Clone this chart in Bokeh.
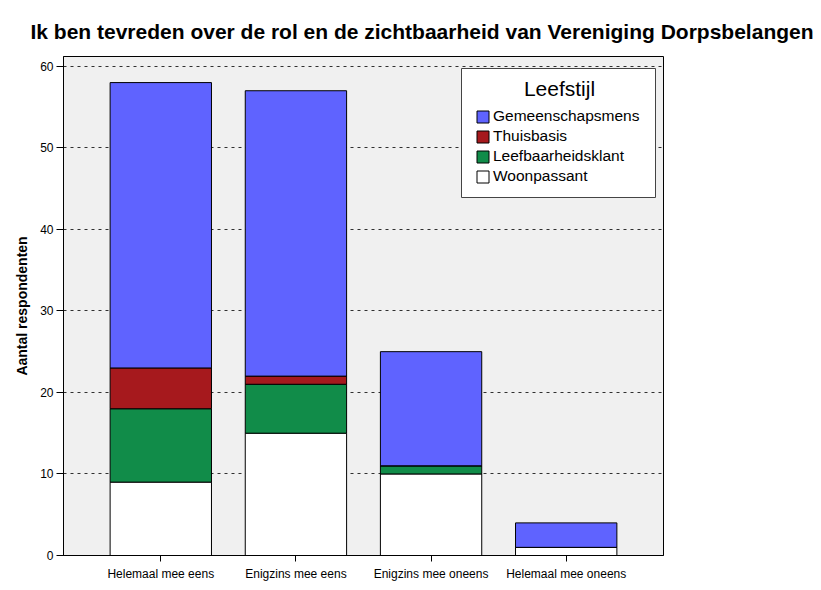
from bokeh.plotting import figure
from bokeh.models import (ColumnDataSource, FactorRange, Range1d, Legend, LegendItem,
                          FixedTicker, BoxAnnotation, Label)
from bokeh.embed import file_html
from bokeh.resources import INLINE

categories = ["Helemaal mee eens", "Enigzins mee eens", "Enigzins mee oneens", "Helemaal mee oneens"]
woonpassant = [9, 15, 10, 1]
leefbaarheidsklant = [9, 6, 1, 0]
thuisbasis = [5, 1, 0, 0]
gemeenschapsmens = [35, 35, 14, 3]

series_names = ["Woonpassant", "Leefbaarheidsklant", "Thuisbasis", "Gemeenschapsmens"]
series_colors = ["#ffffff", "#118c49", "#a6191d", "#5f63ff"]
y_ticks = [0, 10, 20, 30, 40, 50, 60]
legend_title = "Leefstijl"

src = ColumnDataSource(dict(cat=categories, w=woonpassant, l=leefbaarheidsklant,
                            t=thuisbasis, g=gemeenschapsmens))

FONT = "Liberation Sans"

p = figure(x_range=FactorRange(factors=categories, range_padding=0.22, range_padding_units="absolute"),
           y_range=Range1d(0, 61.2),
           frame_width=600, frame_height=499,
           min_border_left=63, min_border_right=158, min_border_top=56, min_border_bottom=35,
           output_backend="svg", toolbar_location=None,
           background_fill_color="#f0f0f0", border_fill_color="white",
           outline_line_color="black", outline_line_width=1)

p.title.text = "Ik ben tevreden over de rol en de zichtbaarheid van Vereniging Dorpsbelangen"
p.title.align = "left"
p.title.offset = -33
p.title.standoff = 28
p.title.text_font = FONT
p.title.text_font_size = "21px"
p.title.text_font_style = "bold"
p.title.text_color = "black"

renderers = p.vbar_stack(["w", "l", "t", "g"], x="cat", width=0.75, source=src,
                         fill_color=series_colors, line_color="black", line_width=1)

# axes
p.yaxis.ticker = FixedTicker(ticks=y_ticks)
p.yaxis.axis_label = "Aantal respondenten"
p.yaxis.axis_label_text_font = FONT
p.yaxis.axis_label_text_font_style = "bold"
p.yaxis.axis_label_text_font_size = "14px"
p.yaxis.axis_label_text_color = "black"
p.yaxis.axis_label_standoff = 7
for ax in (p.xaxis[0], p.yaxis[0]):
    ax.axis_line_color = "black"
    ax.major_tick_line_color = "black"
    ax.major_tick_in = 0
    ax.major_tick_out = 6
    ax.minor_tick_line_color = None
    ax.major_label_text_font = FONT
    ax.major_label_text_font_size = "12px"
    ax.major_label_text_color = "black"
p.yaxis.major_tick_out = 7
p.yaxis.major_label_standoff = 3
p.xaxis.major_label_standoff = 5

p.xgrid.grid_line_color = None
p.ygrid.grid_line_color = "#303030"
p.ygrid.grid_line_dash = "3 4"
p.ygrid.grid_line_width = 1

# legend box (frame-relative screen units)
box = BoxAnnotation(left=398, right=592, bottom=358, top=487,
                    left_units="screen", right_units="screen",
                    bottom_units="screen", top_units="screen",
                    fill_color="white", fill_alpha=1,
                    line_color="#444444", line_width=1, line_alpha=1)
p.add_layout(box)

items = [LegendItem(label=series_names[i], renderers=[renderers[i]]) for i in (3, 2, 1, 0)]
legend = Legend(items=items, location=(412, 370),
                label_text_font=FONT, label_text_font_size="15.5px", label_text_color="black",
                glyph_width=15, glyph_height=15, label_standoff=3, label_height=18, spacing=2,
                padding=0, margin=0,
                border_line_color=None, background_fill_alpha=0)
p.add_layout(legend, "center")

p.add_layout(Label(x=496, y=467, x_units="screen", y_units="screen", text=legend_title,
                   text_font=FONT, text_font_size="21px", text_color="black",
                   text_align="center", text_baseline="middle"))

open("out.html", "w").write(file_html(p, INLINE))
